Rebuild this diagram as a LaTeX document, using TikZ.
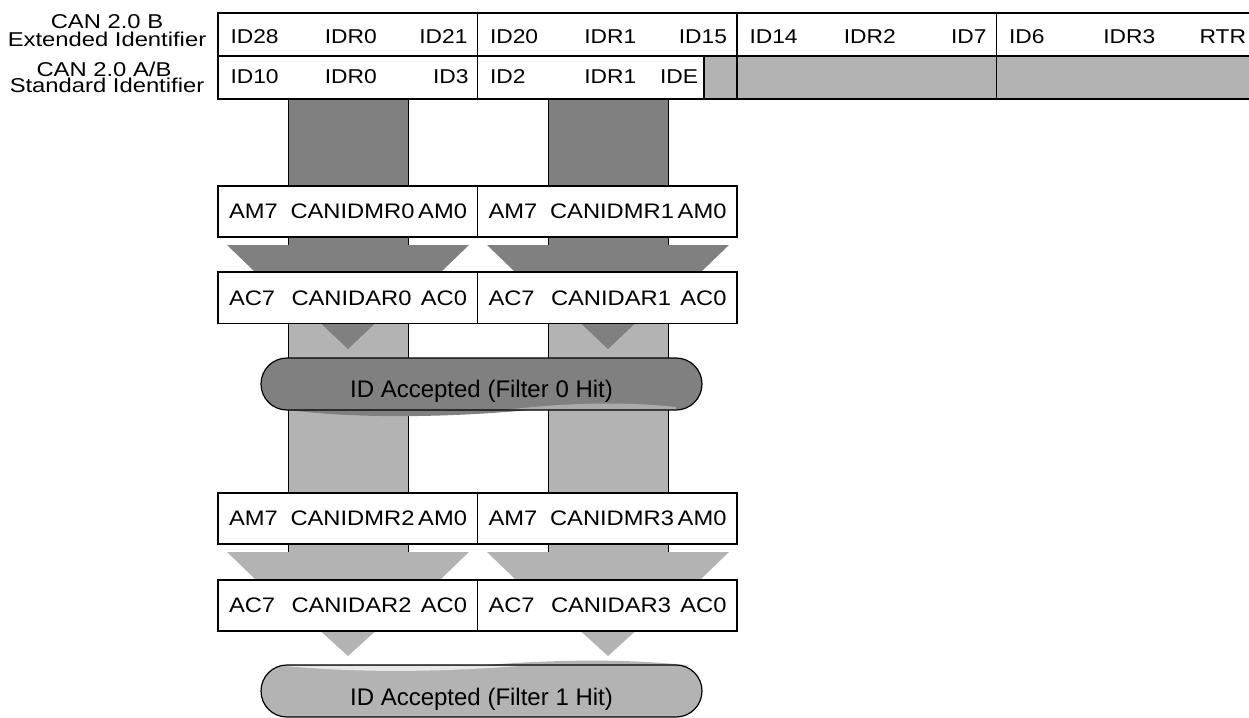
\documentclass[tikz,border=0pt]{standalone}
\usepackage{fontspec}
\usepackage{graphicx}
\setmainfont{Liberation Sans}
\definecolor{darkfill}{HTML}{808080}
\definecolor{lightfill}{HTML}{B3B3B3}
% font sizes (text is set slightly wide)
\newcommand\tbl[1]{{\fontsize{20}{24}\selectfont\scalebox{1.14}[1]{#1}}}
\newcommand\lbl[1]{{\fontsize{20}{24}\selectfont\scalebox{1.19}[1]{#1}}}
\newcommand\reg[1]{{\fontsize{21}{25}\selectfont\scalebox{1.13}[1]{#1}}}
\newcommand\pil[1]{{\fontsize{24}{28}\selectfont #1}}
\begin{document}
\begin{tikzpicture}[x=1pt, y=-1pt,
  barside/.style={draw=black, line width=0.9pt},
  regbox/.style={draw=black, line width=1.8pt, fill=white, minimum width=259.5pt,
                 minimum height=51.5pt, inner sep=0pt, outer sep=0pt},
  txt/.style={inner sep=0pt, outer sep=0pt, text=black},
  grid/.style={line width=1.6pt},
  hitline/.style={line width=1.2pt, rounded corners=26pt}]

\useasboundingbox (0,0) rectangle (1249,717);

% ---- light data paths between the two filter stages
\foreach \c in {348, 608} {
  \fill[lightfill] (\c-60,322) rectangle (\c+60,556);
  \draw[barside] (\c-60,322) -- (\c-60,556) (\c+60,322) -- (\c+60,556);
}

% ---- dark data paths from the identifier registers
\foreach \c in {348, 608} {
  \fill[darkfill] (\c-60,99) rectangle (\c+60,248);
  \draw[barside] (\c-60,99) -- (\c-60,248) (\c+60,99) -- (\c+60,248);
  \fill[darkfill] (\c-121,245) -- (\c+121,245) -- (\c+93,272) -- (\c+26.5,324)
     -- (\c,349) -- (\c-26.5,324) -- (\c-93,272) -- cycle;
  \fill[lightfill] (\c-121,552) -- (\c+121,552) -- (\c+93,579) -- (\c+26.5,632)
     -- (\c,656) -- (\c-26.5,632) -- (\c-93,579) -- cycle;
}

% ---- identifier register table
\fill[lightfill] (704,56) rectangle (1262,99);
\draw[grid] (218,13) rectangle (1262,99);
\draw[grid] (218,56) -- (1262,56);
\foreach \x in {477.5, 737, 996.5} \draw[grid] (\x,13) -- (\x,99);
\draw[grid] (704,56) -- (704,99);

\foreach \l/\a/\b/\e [count=\i] in {218/ID28/IDR0/ID21, 477.5/ID20/IDR1/ID15,
                                     737/ID14/IDR2/ID7, 996.5/ID6/IDR3/RTR} {
  \node[txt, anchor=base west] (ea\i) at (\l+12.5,43.5) {\tbl{\a}};
  \node[txt, anchor=base]      (eb\i) at (\l+132.8,43.5) {\tbl{\b}};
  \node[txt, anchor=base east] (ec\i) at (\l+249.5,43.5) {\tbl{\e}};
}
\foreach \l/\a/\b/\e [count=\i] in {218/ID10/IDR0/ID3, 477.5/ID2/IDR1/IDE} {
  \node[txt, anchor=base west] (sa\i) at (\l+12.5,83) {\tbl{\a}};
  \node[txt, anchor=base]      (sb\i) at (\l+132.8,83) {\tbl{\b}};
}
\node[txt, anchor=base east] (sc1) at (468.5,83) {\tbl{ID3}};
\node[txt, anchor=base east] (sc2) at (698,83) {\tbl{IDE}};

% ---- row captions
\node[txt, anchor=base] (capB1) at (107,28.3) {\lbl{CAN 2.0 B}};
\node[txt, anchor=base] (capB2) at (107,46.7) {\lbl{Extended Identifier}};
\node[txt, anchor=base] (capA1) at (104,76.7) {\lbl{CAN 2.0 A/B}};
\node[txt, anchor=base] (capA2) at (107,92.7) {\lbl{Standard Identifier}};

% ---- mask / acceptance registers
\node[regbox] (mr0) at (347.75,211.5) {};
\node[regbox] (mr1) at (607.25,211.5) {};
\node[regbox] (ar0) at (347.75,297.75) {};
\node[regbox] (ar1) at (607.25,297.75) {};
\node[regbox] (mr2) at (347.75,518.5) {};
\node[regbox] (mr3) at (607.25,518.5) {};
\node[regbox] (ar2) at (347.75,605.5) {};
\node[regbox] (ar3) at (607.25,605.5) {};

\foreach \l/\n [count=\i] in {218/0, 477.5/1} {
  \node[txt, anchor=base west] (ma\i) at (\l+11,218.5) {\reg{AM7}};
  \node[txt, anchor=base]      (mb\i) at (\l+134.5,218.5) {\reg{CANIDMR\n}};
  \node[txt, anchor=base east] (mc\i) at (\l+249,218.5) {\reg{AM0}};
  \node[txt, anchor=base west] (aa\i) at (\l+11,305.5) {\reg{AC7}};
  \node[txt, anchor=base]      (ab\i) at (\l+133.5,305.5) {\reg{CANIDAR\n}};
  \node[txt, anchor=base east] (ac\i) at (\l+249,305.5) {\reg{AC0}};
}
\foreach \l/\n [count=\i] in {218/2, 477.5/3} {
  \node[txt, anchor=base west] (mma\i) at (\l+11,525.5) {\reg{AM7}};
  \node[txt, anchor=base]      (mmb\i) at (\l+134.5,525.5) {\reg{CANIDMR\n}};
  \node[txt, anchor=base east] (mmc\i) at (\l+249,525.5) {\reg{AM0}};
  \node[txt, anchor=base west] (aaa\i) at (\l+11,612.5) {\reg{AC7}};
  \node[txt, anchor=base]      (aab\i) at (\l+133.5,612.5) {\reg{CANIDAR\n}};
  \node[txt, anchor=base east] (aac\i) at (\l+249,612.5) {\reg{AC0}};
}

% ---- filter 0 hit banner (wavy lower edge)
\fill[darkfill, rounded corners=26pt] (261,358) rectangle (702,410);
\fill[darkfill] (282,409) .. controls (350,419) and (450,418) .. (540,409) -- cycle;
\fill[lightfill!85!darkfill] (505,410) .. controls (570,402) and (630,402) .. (676,407)
   -- (676,410) -- cycle;
\draw[hitline] (261,358) rectangle (702,410);
\node[txt, anchor=base] (hit0) at (481.5,397) {\pil{ID Accepted (Filter 0 Hit)}};

% ---- filter 1 hit banner (wavy upper edge)
\fill[lightfill, rounded corners=26pt] (261,665) rectangle (702,717);
\fill[white!70!lightfill] (285,666) .. controls (360,673) and (440,672) .. (520,666) -- cycle;
\fill[lightfill] (480,665.5) .. controls (560,659) and (630,659) .. (690,665.5) -- cycle;
\draw[hitline] (261,665) rectangle (702,717);
\node[txt, anchor=base] (hit1) at (481.5,705) {\pil{ID Accepted (Filter 1 Hit)}};

\end{tikzpicture}
\end{document}
